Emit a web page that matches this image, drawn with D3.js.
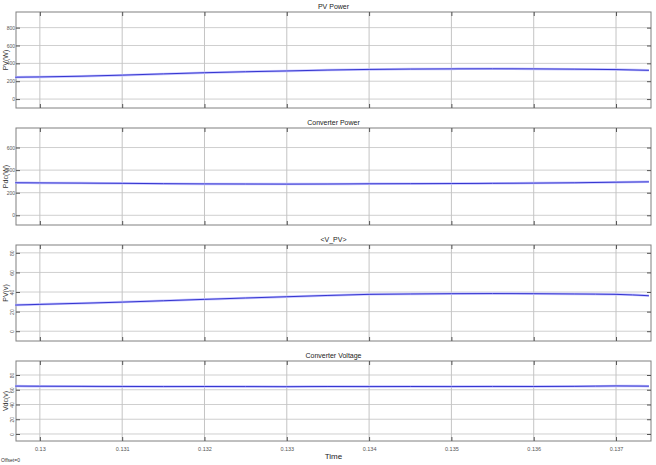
<!DOCTYPE html>
<html><head><meta charset="utf-8">
<script src="https://cdn.jsdelivr.net/npm/d3@7"></script>
<style>body{margin:0;background:#fff}svg{display:block;font-family:"Liberation Sans",Arial,sans-serif}</style>
</head><body><svg id="c" width="656" height="465"></svg>
<script>
const time = [0.1297,0.1300,0.1305,0.1310,0.1315,0.1320,0.1325,0.1330,0.1335,0.1340,0.1345,0.1350,0.1355,0.1360,0.1365,0.1370,0.1374];
const pvPower   = [245,248,256,268,282,295,306,315,325,332,336,338,339,338,335,330,322];
const convPower = [288,287,285,283,280,278,277,276,277,279,280,281,283,285,288,293,296];
const vPV       = [26.7,27.4,28.5,29.7,31.1,32.5,33.9,35.2,36.5,37.6,38.0,38.3,38.4,38.3,38.0,37.6,36.2];
const convVolt  = [65,64.8,64.6,64.5,64.3,64.4,64.3,64.2,64.4,64.3,64.4,64.3,64.5,64.4,64.6,65.2,64.9];
const xTicks = [0.130,0.131,0.132,0.133,0.134,0.135,0.136,0.137];
const xTickLabels = ["0.13","0.131","0.132","0.133","0.134","0.135","0.136","0.137"];

const panels = [
  {title:"PV  Power", ylab:"PV(W)", data:pvPower, dom:[-100,975], ticks:[0,200,400,600,800], top:12, bot:108, rot:false},
  {title:"Converter Power", ylab:"Pdc(W)", data:convPower, dom:[-86,773], ticks:[0,200,400,600], top:128, bot:225, rot:false},
  {title:"<V_PV>", ylab:"PV(v)", data:vPV, dom:[-10,88], ticks:[0,20,40,60,80], top:245, bot:341, rot:true},
  {title:"Converter Voltage", ylab:"Vdc(v)", data:convVolt, dom:[-9.5,99], ticks:[0,20,40,60,80], top:361, bot:441, rot:true}
];

const svg = d3.select("#c");
const L = 16, R = 651;
const x = d3.scaleLinear().domain([0.12971,0.137425]).range([L,R]);

panels.forEach((p,i)=>{
  const y = d3.scaleLinear().domain(p.dom).range([p.bot,p.top]);
  const g = svg.append("g");
  g.selectAll(".hg").data(p.ticks).join("line")
    .attr("x1",L).attr("x2",R).attr("y1",d=>y(d)).attr("y2",d=>y(d))
    .attr("stroke","#cfcfcf").attr("stroke-width",1);
  g.selectAll(".vg").data(xTicks).join("line")
    .attr("x1",d=>x(d)).attr("x2",d=>x(d)).attr("y1",p.top).attr("y2",p.bot)
    .attr("stroke","#c4c4c4").attr("stroke-width",1);
  g.append("rect").attr("x",L).attr("y",p.top).attr("width",R-L).attr("height",p.bot-p.top)
    .attr("fill","none").attr("stroke","#808080").attr("stroke-width",1);
  const ya = d3.axisLeft(y).tickValues(p.ticks).tickSize(-4).tickPadding(1).tickFormat(d3.format("d"));
  const ag = g.append("g").attr("transform",`translate(${L},0)`).call(ya);
  ag.select(".domain").remove();
  ag.selectAll("line").attr("stroke","#555");
  ag.selectAll("text").attr("font-size",5).attr("fill","#555");
  if(p.rot){
    ag.selectAll("text").attr("text-anchor","middle").attr("x",null).attr("dy",null)
      .attr("transform","translate(-3,0) rotate(-90)").attr("dominant-baseline","middle");
  }
  const yr = d3.axisRight(y).tickValues(p.ticks).tickSize(-4).tickFormat("");
  const rg = g.append("g").attr("transform",`translate(${R},0)`).call(yr);
  rg.select(".domain").remove();
  rg.selectAll("line").attr("stroke","#555");
  const xb = d3.axisBottom(x).tickValues(xTicks).tickSize(-4).tickFormat((d,j)=> i===3 ? xTickLabels[j] : "").tickPadding(6);
  const xg = g.append("g").attr("transform",`translate(0,${p.bot})`).call(xb);
  xg.select(".domain").remove();
  xg.selectAll("line").attr("stroke","#555");
  xg.selectAll("text").attr("font-size",5.5).attr("fill","#555");
  const xt = d3.axisTop(x).tickValues(xTicks).tickSize(-4).tickFormat("");
  const xtg = g.append("g").attr("transform",`translate(0,${p.top})`).call(xt);
  xtg.select(".domain").remove();
  xtg.selectAll("line").attr("stroke","#555");
  svg.append("text").attr("x",(L+R)/2).attr("y",p.top-3).attr("text-anchor","middle")
    .attr("font-size",7).attr("fill","#222").text(p.title);
  svg.append("text").attr("transform",`translate(6,${(p.top+p.bot)/2}) rotate(-90)`)
    .attr("text-anchor","middle").attr("dominant-baseline","middle").attr("font-size",7).attr("fill","#333").text(p.ylab);
  const line = d3.line().x((d,j)=>x(time[j])).y(d=>y(d)).curve(d3.curveMonotoneX);
  g.append("path").datum(p.data).attr("d",line).attr("fill","none")
    .attr("stroke","#c4c4ff").attr("stroke-width",2.5);
  g.append("path").datum(p.data).attr("d",line).attr("fill","none")
    .attr("stroke","#3535d0").attr("stroke-width",1);
});
svg.append("text").attr("x",(L+R)/2).attr("y",459).attr("text-anchor","middle")
  .attr("font-size",8).attr("fill","#222").text("Time");
svg.append("text").attr("x",1).attr("y",462).attr("font-size",5).attr("fill","#333").text("Offset=0");
</script></body></html>
